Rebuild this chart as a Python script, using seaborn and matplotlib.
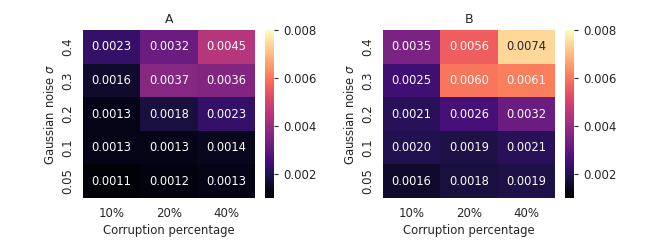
import numpy as np
import pandas as pd
import matplotlib
matplotlib.use("Agg")
import matplotlib.pyplot as plt
import seaborn as sns

corruption = ["10%", "20%", "40%"]
noise = ["0.4", "0.3", "0.2", "0.1", "0.05"]
values_a = [
    [0.0023, 0.0032, 0.0045],
    [0.0016, 0.0037, 0.0036],
    [0.0013, 0.0018, 0.0023],
    [0.0013, 0.0013, 0.0014],
    [0.0011, 0.0012, 0.0013],
]
values_b = [
    [0.0035, 0.0056, 0.0074],
    [0.0025, 0.0060, 0.0061],
    [0.0021, 0.0026, 0.0032],
    [0.0020, 0.0019, 0.0021],
    [0.0016, 0.0018, 0.0019],
]
titles = ["A", "B"]
cbar_ticks = [0.002, 0.004, 0.006, 0.008]

sns.set_style("white")
plt.rcParams["font.family"] = ["DejaVu Sans"]

W, H = 664, 249
fig = plt.figure(figsize=(W / 100, H / 100), dpi=100)

def box(x0, x1, y0, y1):
    return [x0 / W, 1 - y1 / H, (x1 - x0) / W, (y1 - y0) / H]

layouts = [
    (box(83, 255, 30, 198), box(265, 274, 30, 198)),
    (box(383, 555, 30, 198), box(565, 574, 30, 198)),
]

for vals, title, (hb, cb) in zip([values_a, values_b], titles, layouts):
    df = pd.DataFrame(vals, index=noise, columns=corruption)
    ax = fig.add_axes(hb)
    cax = fig.add_axes(cb)
    sns.heatmap(df, ax=ax, cbar_ax=cax, cmap="magma", vmin=0.001, vmax=0.008,
                annot=True, fmt=".4f", annot_kws={"fontsize": 8.3},
                cbar_kws={"ticks": cbar_ticks})
    ax.set_title(title, fontsize=9, pad=5)
    ax.set_xlabel("Corruption percentage", fontsize=8.4, labelpad=3)
    ax.set_ylabel("Gaussian noise $\\sigma$", fontsize=8.4, labelpad=3)
    ax.tick_params(axis="both", labelsize=8.5, length=3)
    ax.tick_params(axis="x", rotation=0)
    ax.tick_params(axis="y", rotation=90)
    for lbl in ax.get_yticklabels():
        lbl.set_va("center")
    cax.tick_params(labelsize=8.5, length=3)
    cax.yaxis.set_major_formatter(matplotlib.ticker.FormatStrFormatter("%.3f"))

fig.savefig("out.png", dpi=100)
